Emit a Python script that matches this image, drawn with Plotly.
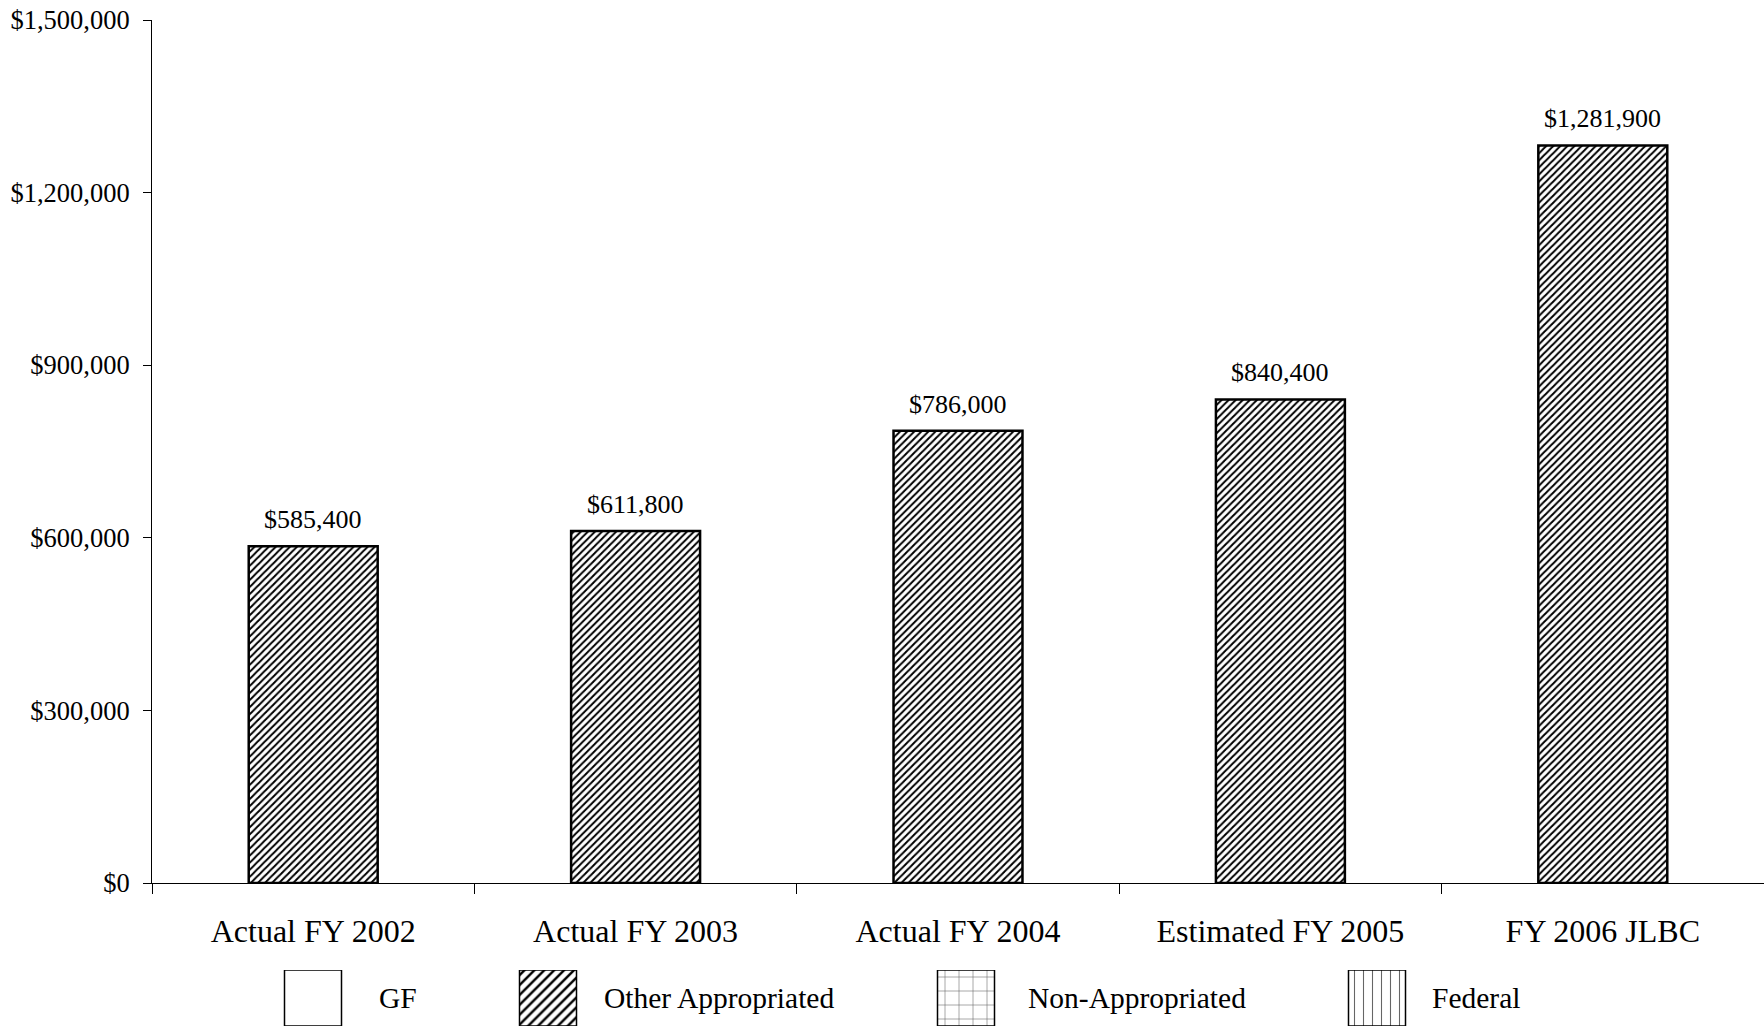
import plotly.graph_objects as go

# ---- data ----
categories = ["Actual FY 2002", "Actual FY 2003", "Actual FY 2004", "Estimated FY 2005", "FY 2006 JLBC"]
other_appropriated = [585400, 611800, 786000, 840400, 1281900]
y_ticks = [0, 300000, 600000, 900000, 1200000, 1500000]
y_tick_labels = [f"${v:,}" for v in y_ticks]
legend_names = ["GF", "Other Appropriated", "Non-Appropriated", "Federal"]

# ---- layout constants (pixels) ----
W, H = 1764, 1028
PLOT_L, PLOT_T, PLOT_B = 152, 20, 883
LEG_T, LEG_B = 970, 1026
leg_swatch_x = [313, 548, 966, 1377]
leg_text_x = [377, 602, 1026, 1430]
SW = 57
FONT = "Liberation Serif, Times New Roman, serif"

fig = go.Figure()

fig.add_trace(go.Bar(
    x=categories, y=other_appropriated, width=0.4,
    marker=dict(color="white",
                line=dict(color="black", width=2.5),
                pattern=dict(shape="/", size=5, solidity=0.4,
                             fgcolor="black", bgcolor="white", fillmode="replace")),
    showlegend=False, xaxis="x", yaxis="y", hoverinfo="x+y",
))

for c, v in zip(categories, other_appropriated):
    fig.add_annotation(x=c, y=v, xref="x", yref="y", text=f"${v:,.0f}",
                       showarrow=False, yanchor="bottom", yshift=10,
                       font=dict(family=FONT, size=26, color="black"))

# ---- custom legend on a second axis ----
patterns = [
    dict(shape="", fgcolor="black", bgcolor="white"),
    dict(shape="/", size=7, solidity=0.35, fgcolor="black", bgcolor="white", fillmode="replace"),
    dict(shape="+", size=14, solidity=0.08, fgcolor="#666", bgcolor="white", fillmode="replace"),
    dict(shape="|", size=9, solidity=0.12, fgcolor="#666", bgcolor="white", fillmode="replace"),
]
for name, sx, pat in zip(legend_names, leg_swatch_x, patterns):
    fig.add_trace(go.Bar(
        x=[sx], y=[1], width=SW, base=0,
        marker=dict(color="white", line=dict(color="black", width=1.5), pattern=pat),
        showlegend=False, xaxis="x2", yaxis="y2", hoverinfo="skip", name=name,
    ))
for name, tx in zip(legend_names, leg_text_x):
    fig.add_annotation(x=tx, y=0.5, xref="x2", yref="y2", text=name, showarrow=False,
                       xanchor="left", yanchor="middle",
                       font=dict(family=FONT, size=29.5, color="black"))

fig.update_layout(
    width=W, height=H,
    margin=dict(l=0, r=0, t=0, b=0, autoexpand=False),
    paper_bgcolor="white", plot_bgcolor="white",
    font=dict(family=FONT, color="black"),
    bargap=0.6,
    xaxis=dict(domain=[PLOT_L / W, 1], type="category", showline=True, linecolor="black",
               linewidth=1, ticks="outside", tickson="boundaries", ticklen=10,
               tickcolor="black", showgrid=False, zeroline=False, automargin=False,
               tickfont=dict(family=FONT, size=32, color="black"),
               ticklabelstandoff=20, anchor="y"),
    yaxis=dict(domain=[1 - PLOT_B / H, 1 - PLOT_T / H], range=[0, 1500000],
               tickmode="array", tickvals=y_ticks, ticktext=y_tick_labels, showline=True,
               linecolor="black", linewidth=1, ticks="outside", ticklen=8,
               tickcolor="black", showgrid=False, zeroline=False, automargin=False,
               tickfont=dict(family=FONT, size=26.5, color="black"),
               ticklabelstandoff=8, anchor="x"),
    xaxis2=dict(domain=[0, 1], range=[0, W], visible=False, anchor="y2", fixedrange=True,
                automargin=False),
    yaxis2=dict(domain=[1 - LEG_B / H, 1 - LEG_T / H], range=[0, 1], visible=False,
                anchor="x2", fixedrange=True, automargin=False),
)

fig.write_html("out.html")
